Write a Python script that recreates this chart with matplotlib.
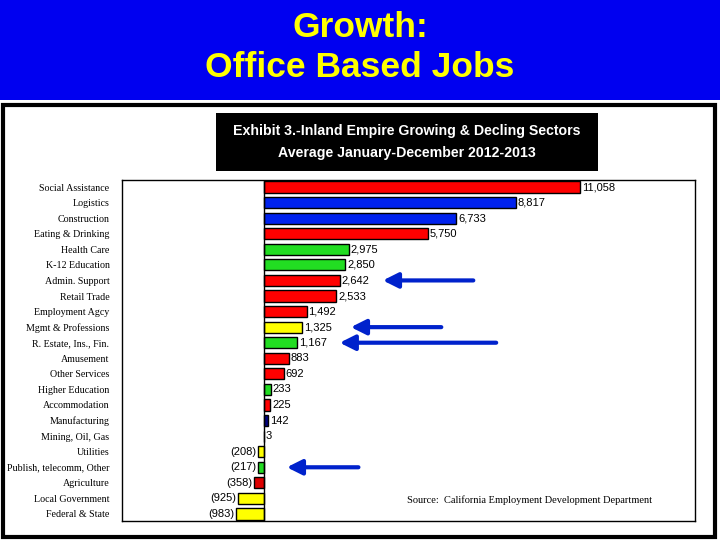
import matplotlib
matplotlib.use('Agg')
import matplotlib.pyplot as plt
from matplotlib.patches import Rectangle

# data
sectors = ['Social Assistance', 'Logistics', 'Construction', 'Eating & Drinking',
           'Health Care', 'K-12 Education', 'Admin. Support', 'Retail Trade',
           'Employment Agcy', 'Mgmt & Professions', 'R. Estate, Ins., Fin.',
           'Amusement', 'Other Services', 'Higher Education', 'Accommodation',
           'Manufacturing', 'Mining, Oil, Gas', 'Utilities',
           'Publish, telecomm, Other', 'Agriculture', 'Local Government',
           'Federal & State']
jobs = [11058, 8817, 6733, 5750, 2975, 2850, 2642, 2533, 1492, 1325, 1167,
        883, 692, 233, 225, 142, 3, -208, -217, -358, -925, -983]
bar_colors = ['#ff0000', '#0022ee', '#0022ee', '#ff0000', '#22dd22', '#22dd22',
              '#ff0000', '#ff0000', '#ff0000', '#ffff00', '#22dd22', '#ff0000',
              '#ff0000', '#22dd22', '#ff0000', '#000080', '#ffffff', '#ffff00',
              '#22dd22', '#dd0000', '#ffff00', '#ffff00']
# arrows: (row, head x, tail x) in job units
arrows = [(6, 4060, 7420), (9, 2940, 6300), (10, 2550, 8220), (18, 700, 3400)]

W, H = 720, 540
fig = plt.figure(figsize=(7.2, 5.4), dpi=100)
fig.patch.set_facecolor('white')

# blue header
fig.patches.append(Rectangle((0, 1 - 100 / H), 1, 100 / H, transform=fig.transFigure,
                             facecolor='#0000f0', edgecolor='none', zorder=0))
fig.text(0.5, 1 - 37 / H, 'Growth:', color='#ffff00', fontsize=25.5, fontweight='bold',
         family='Liberation Sans', ha='center', va='baseline')
fig.text(0.5, 1 - 77 / H, 'Office Based Jobs', color='#ffff00', fontsize=25.5,
         fontweight='bold', family='Liberation Sans', ha='center', va='baseline')

# outer black frame
fig.patches.append(Rectangle((2.5 / W, 3 / H), 712.5 / W, (537 - 105) / H,
                             transform=fig.transFigure, facecolor='none',
                             edgecolor='black', linewidth=3, zorder=1))

# black title box
fig.patches.append(Rectangle((216 / W, 1 - 171 / H), 382 / W, 58 / H,
                             transform=fig.transFigure, facecolor='black',
                             edgecolor='none', zorder=1))
fig.text(407 / W, 1 - 131 / H, 'Exhibit 3.-Inland Empire Growing & Decling Sectors',
         color='white', fontsize=10.2, fontweight='bold', family='Liberation Sans',
         ha='center', va='center')
fig.text(407 / W, 1 - 153 / H, 'Average January-December 2012-2013',
         color='white', fontsize=10.2, fontweight='bold', family='Liberation Sans',
         ha='center', va='center')

ax = fig.add_axes([122 / W, 1 - 521 / H, 573 / W, 341 / H])
ypos = list(range(len(sectors)))
ax.barh(ypos, jobs, height=0.72, color=bar_colors, edgecolor='black', linewidth=1)
ax.axvline(0, color='black', linewidth=1)
ax.set_xlim(-4970, 15080)
ax.set_ylim(len(sectors) - 0.55, -0.45)
ax.set_xticks([])
ax.set_yticks(ypos)
ax.set_yticklabels(sectors, family='Liberation Serif', fontsize=7.2)
ax.tick_params(axis='y', length=0, pad=9)
for s in ax.spines.values():
    s.set_linewidth(1)

for y, v in zip(ypos, jobs):
    if v >= 0:
        ax.text(v + 60, y, f'{v:,}', va='center', ha='left', fontsize=8,
                family='Liberation Sans')
    else:
        ax.text(v - 60, y, f'({-v:,})', va='center', ha='right', fontsize=8,
                family='Liberation Sans')

for row, head, tail in arrows:
    ax.annotate('', xy=(head, row), xytext=(tail, row),
                arrowprops=dict(arrowstyle='-|>,head_length=0.9,head_width=0.45',
                                color='#0022cc', linewidth=3))

ax.text(0.925, 0.06, 'Source:  California Employment Development Department',
        transform=ax.transAxes, ha='right', va='center', fontsize=7.5,
        family='Liberation Serif')

fig.savefig('out.png', dpi=100)
